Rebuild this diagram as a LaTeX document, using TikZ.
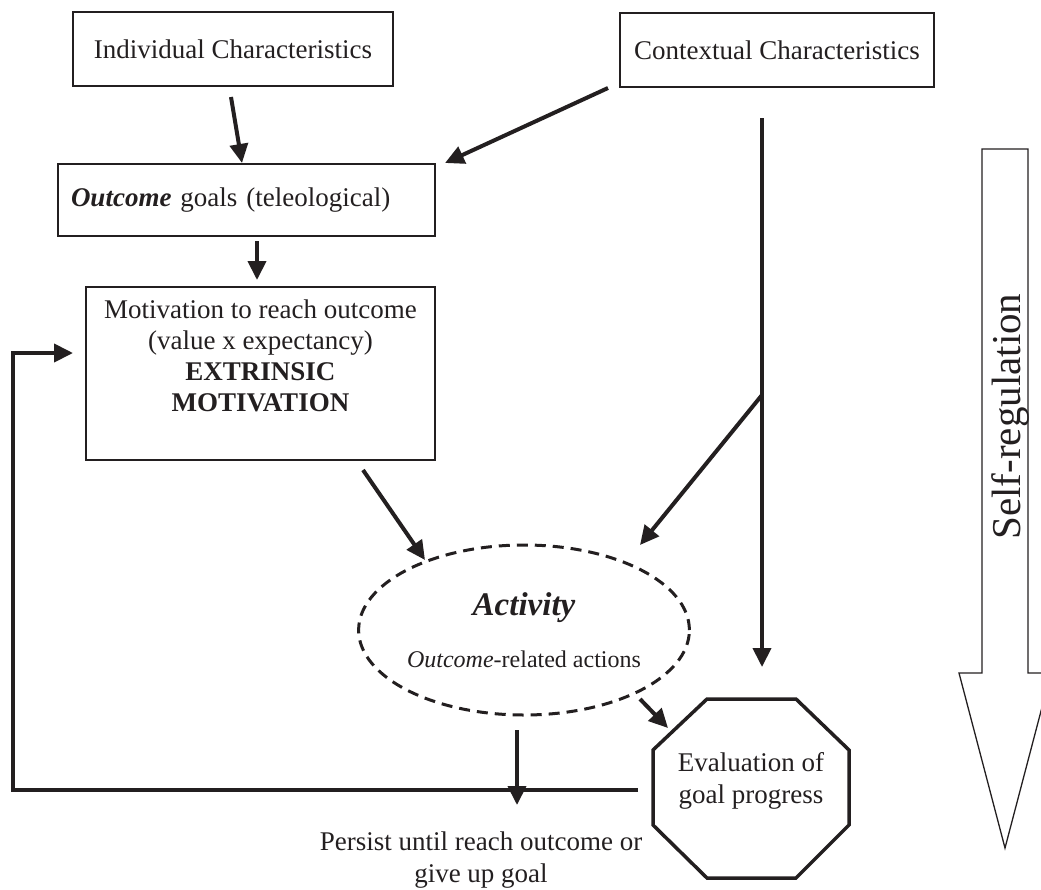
\documentclass[tikz,border=0pt]{standalone}
\usepackage{fontspec}
\setmainfont{Liberation Serif}
\usetikzlibrary{arrows.meta,calc,shapes.geometric}
\definecolor{ink}{RGB}{35,31,32}
\tikzset{
  box/.style={draw=ink, text=ink, line width=1.3pt, rectangle, inner sep=0pt, outer sep=0pt,
    font=\fontsize{27}{31}\selectfont},
  arr/.style={draw=ink, line width=4pt, -{Triangle[length=19pt,width=18pt]}},
  plainline/.style={draw=ink, line width=4pt},
  octline/.style={draw=ink, line width=3.5pt, line join=miter},
  txt/.style={text=ink, inner sep=0pt, outer sep=0pt, align=center},
}
\begin{document}
\begin{tikzpicture}[x=1pt,y=-1pt]
\useasboundingbox (0,0) rectangle (1041,889);

% boxes
\node[box, minimum width=320pt, minimum height=74pt] (ic) at (233,49) {Individual Characteristics};
\node[box, minimum width=314pt, minimum height=74pt] (cc) at (777,50) {Contextual Characteristics};
\node[box, minimum width=377pt, minimum height=72pt, text width=351pt, align=left, inner xsep=13pt] (oc) at (246.5,200)
  {\textbf{\textit{Outcome}} goals (teleological)};
\node[box, minimum width=349pt, minimum height=173pt, align=center, text depth=35pt] (mot) at (260.5,373.5)
  {Motivation to reach outcome\\(value x expectancy)\\\textbf{EXTRINSIC}\\\textbf{MOTIVATION}};

% activity ellipse
\node[ellipse, draw=ink, line width=3pt, dash pattern=on 11pt off 7pt, minimum width=294pt, minimum height=170pt,
  inner sep=0pt, txt, font=\fontsize{24}{52}\selectfont] (act) at (524,630)
  {{\fontsize{33}{52}\selectfont\bfseries\itshape Activity}\\\textit{Outcome}-related actions};

% evaluation octagon
\node[txt, minimum width=196pt, minimum height=179pt, text depth=21pt, font=\fontsize{27}{32}\selectfont] (eval) at (751,788.5)
  {Evaluation of\\goal progress};
\draw[octline] ($(eval.north west)+(54,0)$) -- ($(eval.north east)+(-53,0)$) -- ($(eval.north east)+(0,51)$)
  -- ($(eval.south east)+(0,-53)$) -- ($(eval.south east)+(-53,0)$) -- ($(eval.south west)+(54,0)$)
  -- ($(eval.south west)+(0,-53)$) -- ($(eval.north west)+(0,51)$) -- cycle;

% persist text
\node[txt, font=\fontsize{27}{32}\selectfont] (persist) at (481,860) {Persist until reach outcome or\\give up goal};

% self-regulation arrow
\draw[draw=ink, line width=1.3pt, line join=miter] (982,149) -- (1028,149) -- (1028,673) -- (1051,673) -- (1005,848)
  -- (959,673) -- (982,673) -- cycle;
\node[txt, rotate=90, font=\fontsize{41}{41}\selectfont] (sr) at (1010.5,416.5) {Self-regulation};

% connectors
\draw[arr] ($(ic.south)+(-2,11)$) -- ($(oc.north)+(-4.5,-1)$);
\draw[arr] ($(cc.south west)+(-12,1)$) -- ($(oc.north east)+(10,-1)$);
\draw[arr] ($(oc.south)+(10.5,5)$) -- ($(mot.north)+(-3.5,-7)$);
\draw[arr] ($(mot.south)+(102.5,10)$) -- ($(act.center)+(-99,-70)$);
\coordinate (ccdown) at ($(cc.south)+(-15,31)$);
\draw[arr] (ccdown) -- ($(eval.north)+(11,-32)$);
\coordinate (branch) at (762,395);
\draw[arr] (branch) -- ($(act.center)+(116,-85)$);
\draw[arr] ($(act.center)+(116,69)$) -- ($(eval.center)+(-83,-60.5)$);
\draw[arr] ($(act.south)+(-7,15)$) -- ($(act.south)+(-7,90)$);
\coordinate (fbcorner) at (13,790);
\draw[arr, line join=miter] ($(eval.west)+(-15,1.5)$) -- (fbcorner) |- ($(mot.west)+(-13,-20.5)$);
\end{tikzpicture}
\end{document}
